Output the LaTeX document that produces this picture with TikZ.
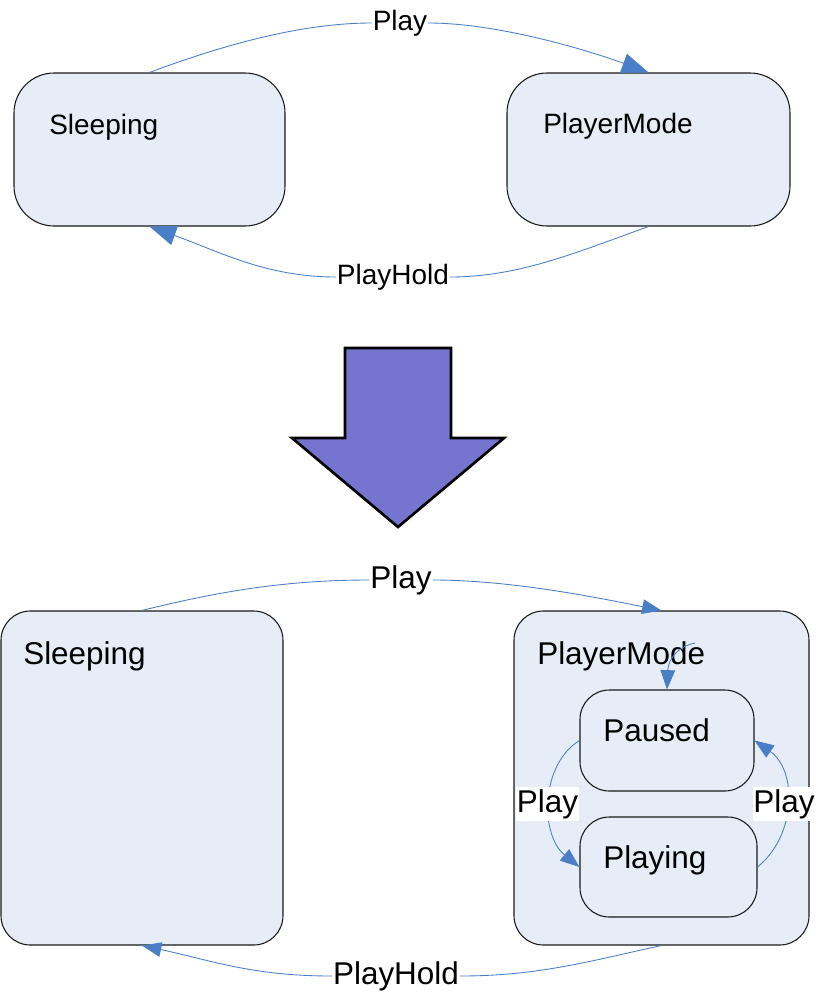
\documentclass[tikz,border=0pt]{standalone}
\usepackage{fontspec}
\setmainfont{Liberation Sans}
\usetikzlibrary{arrows.meta,fit}
\definecolor{boxfill}{HTML}{E6EDF7}
\definecolor{edgeblue}{HTML}{4A7EC6}
\definecolor{bigarrow}{HTML}{7575CF}
\begin{document}
\begin{tikzpicture}[x=0.75pt,y=-0.75pt,
 statebox/.style={draw=black!90, fill=boxfill, line width=0.8pt, inner sep=0pt, rounded corners=22pt},
 topstate/.style={statebox, rounded corners=30pt},
 stxt/.style={anchor=base west, font=\fontsize{23.6}{28}\selectfont, inner sep=0pt},
 stxtsmall/.style={anchor=base west, font=\fontsize{21}{25}\selectfont, inner sep=0pt},
 lbl/.style={font=\fontsize{23.6}{28}\selectfont, inner xsep=0.5pt, inner ysep=1.5pt},
 lblsmall/.style={font=\fontsize{21}{25}\selectfont, inner xsep=0.5pt, inner ysep=1pt},
 trans/.style={draw=edgeblue, line width=0.65pt},
 bigtip/.style={-{Triangle[length=20pt,width=15pt,fill=edgeblue]}},
 smalltip/.style={-{Triangle[length=14.5pt,width=11pt,fill=edgeblue]}},
]
\useasboundingbox (0,0) rectangle (817,996);

% ---------- top diagram ----------
\node[topstate, fit={(14,73) (285,226)}] (sl1) {};
\node[topstate, fit={(507,73) (790,226)}] (pm1) {};
\node[stxtsmall] (t1) at (49,134) {Sleeping};
\node[stxtsmall] (t2) at (543,133) {PlayerMode};

\node[lblsmall] (p1) at (400,23) {Play};
\draw[trans] (sl1.north) .. controls +(75,-28) and +(-70,0) .. (p1.west);
\draw[trans, bigtip] (p1.east) .. controls +(70,0) and +(-60,-22) .. (pm1.north);

\node[lblsmall] (h1) at (393,277) {PlayHold};
\draw[trans] (pm1.south) .. controls +(-70,25) and +(70,0) .. (h1.east);
\draw[trans, bigtip] (h1.west) .. controls +(-70,0) and +(70,25) .. (sl1.south);

% ---------- big arrow ----------
\draw[fill=bigarrow, line width=2pt, line join=miter]
  (345,348) -- (451,348) -- (451,438) -- (504,438) -- (398,527) -- (292,438) -- (345,438) -- cycle;

% ---------- bottom diagram ----------
\node[statebox, fit={(1,611) (283,945)}] (sl2) {};
\node[statebox, fit={(514,611) (809,945)}] (pm2) {};
\node[statebox, fit={(580,690) (754,791)}] (pa) {};
\node[statebox, fit={(580,817) (757,917)}] (pl) {};
\node[stxt] (t3) at (23,664) {Sleeping};
\node[stxt] (t4) at (537,664) {PlayerMode};
\node[stxt] (t5) at (603,741) {Paused};
\node[stxt] (t6) at (603,868) {Playing};

\node[lbl] (p2) at (401,580) {Play};
\draw[trans] (sl2.north) .. controls +(80,-20) and +(-80,0) .. (p2.west);
\draw[trans, smalltip] (p2.east) .. controls +(80,0) and +(-60,-12) .. (pm2.north);

\node[lbl] (h2) at (396,976) {PlayHold};
\draw[trans] (pm2.south) .. controls +(-70,15) and +(80,0) .. (h2.east);
\draw[trans, smalltip] (h2.west) .. controls +(-80,0) and +(70,15) .. (sl2.south);

\coordinate (init) at (695,643);
\draw[trans, smalltip] (init) .. controls (672,648) and (668,665) .. (pa.north);

\draw[trans, smalltip] (pa.west) .. controls (540,765) and (540,835) .. (pl.west);
\draw[trans, smalltip] (pl.east) .. controls (797,835) and (797,770) .. (pa.east);
\node[lbl, fill=white] (lp) at (547.5,804) {Play};
\node[lbl, fill=white] (rp) at (784,804) {Play};
\end{tikzpicture}
\end{document}
